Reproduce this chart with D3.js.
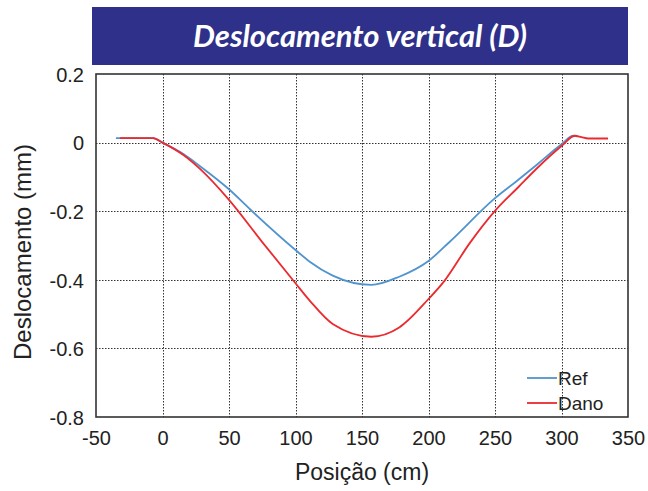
<!DOCTYPE html>
<html>
<head>
<meta charset="utf-8">
<script src="https://cdn.jsdelivr.net/npm/d3@7"></script>
<style>
  html, body { margin: 0; padding: 0; background: #fff; }
  svg { display: block; }
</style>
</head>
<body>
<script>
// Vertical displacement along the beam: reference vs damaged state
const refX  = [-35, -7, 0, 16, 28, 50, 66, 100, 111, 128, 157, 178, 200, 216, 250, 268, 281, 300, 309, 312];
const refY  = [0.013, 0.013, 0, -0.034, -0.068, -0.136, -0.195, -0.313, -0.348, -0.388, -0.415, -0.391, -0.345, -0.289, -0.162, -0.107, -0.066, -0.005, 0.02, 0.018];
const danoX = [-32, -7, 0, 16, 28, 50, 75, 100, 111, 128, 157, 178, 200, 212, 231, 250, 268, 281, 300, 310, 315, 320, 335];
const danoY = [0.013, 0.013, 0, -0.037, -0.076, -0.167, -0.29, -0.41, -0.462, -0.529, -0.566, -0.539, -0.456, -0.403, -0.293, -0.199, -0.128, -0.077, -0.010, 0.02, 0.016, 0.012, 0.012];
const xTicks = [-50, 0, 50, 100, 150, 200, 250, 300, 350];
const yTicks = [0.2, 0, -0.2, -0.4, -0.6, -0.8];
const seriesNames = ["Ref", "Dano"];
const seriesColors = ["#4f93cf", "#ea2a2e"];
const titleText = "Deslocamento vertical (D)";
const xLabel = "Posição (cm)";
const yLabel = "Deslocamento (mm)";

const W = 648, H = 491;
const plot = { left: 96, right: 628, top: 74, bottom: 417 };
const font = "'Liberation Sans', Arial, sans-serif";

const svg = d3.select("body").append("svg").attr("width", W).attr("height", H);

// Title banner
svg.append("rect").attr("x", 92).attr("y", 7).attr("width", 536).attr("height", 58).attr("fill", "#2e3089");
svg.append("text").attr("x", 360).attr("y", 47).attr("text-anchor", "middle")
  .attr("fill", "#fff").attr("font-family", "Lato, 'Open Sans', sans-serif")
  .attr("font-style", "italic").attr("font-weight", "bold").attr("font-size", 31)
  .text(titleText);

const x = d3.scaleLinear().domain([-50, 350]).range([plot.left, plot.right]);
const y = d3.scaleLinear().domain([-0.8, 0.2]).range([plot.bottom, plot.top]);

// Dotted grid
const grid = svg.append("g").attr("stroke", "#333").attr("stroke-width", 1).attr("stroke-dasharray", "1.5,1.5");
grid.selectAll(".gx").data(xTicks.slice(1, -1)).join("line")
  .attr("x1", d => Math.round(x(d)) + 0.5).attr("x2", d => Math.round(x(d)) + 0.5)
  .attr("y1", plot.top).attr("y2", plot.bottom);
grid.selectAll(".gy").data(yTicks.slice(1, -1)).join("line")
  .attr("y1", d => Math.round(y(d)) + 0.5).attr("y2", d => Math.round(y(d)) + 0.5)
  .attr("x1", plot.left).attr("x2", plot.right);

// Axes with labels
const fmt = d => (d === 0 ? "0" : String(d));
const xAxis = svg.append("g").attr("transform", `translate(0,${plot.bottom})`)
  .call(d3.axisBottom(x).tickValues(xTicks).tickFormat(fmt).tickSize(0).tickPadding(14));
const yAxis = svg.append("g").attr("transform", `translate(${plot.left},0)`)
  .call(d3.axisLeft(y).tickValues(yTicks).tickFormat(fmt).tickSize(0).tickPadding(12));
[xAxis, yAxis].forEach(a => {
  a.select(".domain").remove();
  a.selectAll("text").attr("font-family", font).attr("font-size", 20).attr("fill", "#222");
});
yAxis.selectAll("text").attr("dy", "0.36em");

// Series lines
const line = d3.line().x(d => x(d[0])).y(d => y(d[1])).curve(d3.curveMonotoneX);
const series = [
  d3.zip(refX, refY),
  d3.zip(danoX, danoY)
];
series.forEach((s, i) => {
  svg.append("path").datum(s).attr("fill", "none")
    .attr("stroke", seriesColors[i]).attr("stroke-width", 1.8)
    .attr("stroke-linejoin", "round").attr("d", line);
});

// Plot frame
svg.append("rect").attr("x", plot.left).attr("y", plot.top)
  .attr("width", plot.right - plot.left).attr("height", plot.bottom - plot.top)
  .attr("fill", "none").attr("stroke", "#333").attr("stroke-width", 1.6);

// Legend
const legend = svg.append("g").attr("transform", "translate(527,378)");
seriesNames.forEach((n, i) => {
  const g = legend.append("g").attr("transform", `translate(0,${i * 25})`);
  g.append("line").attr("x1", 0).attr("x2", 30).attr("y1", 0).attr("y2", 0)
    .attr("stroke", seriesColors[i]).attr("stroke-width", 1.8);
  g.append("text").attr("x", 31).attr("y", 0).attr("dy", "0.36em")
    .attr("font-family", font).attr("font-size", 19)
    .attr("fill", "#222").text(n);
});

// Axis titles
svg.append("text").attr("x", x(150)).attr("y", 480).attr("text-anchor", "middle")
  .attr("font-family", font).attr("font-size", 23)
  .attr("fill", "#222").text(xLabel);
svg.append("text").attr("transform", `translate(31,252) rotate(-90)`)
  .attr("text-anchor", "middle")
  .attr("font-family", font).attr("font-size", 24)
  .attr("fill", "#222").text(yLabel);
</script>
</body>
</html>
